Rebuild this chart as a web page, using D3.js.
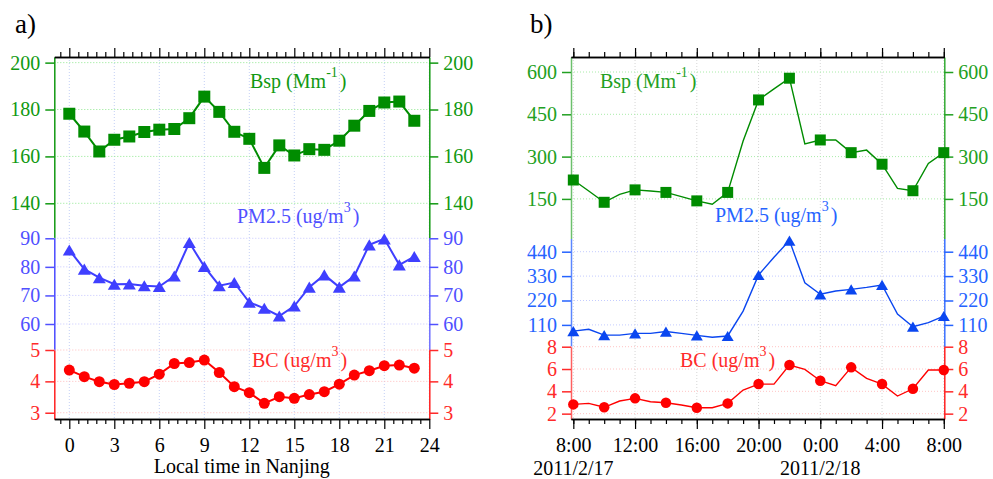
<!DOCTYPE html>
<html>
<head>
<meta charset="utf-8">
<script src="https://cdn.jsdelivr.net/npm/d3@7"></script>
<style>
  body { margin: 0; background: #fff; }
  text { font-family: "Liberation Serif", "Times New Roman", serif; }
</style>
</head>
<body>
<div id="chart"></div>
<script>
// ---- data, panel a (diurnal mean) ----
const hoursA = [0, 1, 2, 3, 4, 5, 6, 7, 8, 9, 10, 11, 12, 13, 14, 15, 16, 17, 18, 19, 20, 21, 22, 23]
const bspA = [178.2, 170.6, 162.1, 167.1, 168.5, 170.4, 171.4, 171.7, 176.3, 185.5, 179.0, 170.5,
              167.5, 155.1, 164.7, 160.4, 163.1, 162.8, 166.7, 173.1, 179.4, 183.0, 183.4, 175.2]
const pmA = [85.9, 79.2, 76.2, 73.9, 74.0, 73.4, 73.1, 76.8, 88.5, 80.1, 73.4, 74.5,
             67.6, 65.5, 62.8, 66.3, 72.9, 77.2, 72.9, 76.8, 87.7, 89.8, 80.7, 83.6]
const bcA = [4.36, 4.15, 3.99, 3.90, 3.94, 3.99, 4.23, 4.57, 4.60, 4.68, 4.28, 3.83,
             3.64, 3.30, 3.51, 3.46, 3.58, 3.67, 3.91, 4.20, 4.34, 4.50, 4.52, 4.42]
const xTicksA = [0, 3, 6, 9, 12, 15, 18, 21, 24]
const bspTicksA = [140, 160, 180, 200]
const pmTicksA = [60, 70, 80, 90]
const bcTicksA = [3, 4, 5]

// ---- data, panel b (episode 2011/2/17-18) ----
const timesB = ["2011-02-17 08:00", "2011-02-17 09:00", "2011-02-17 10:00", "2011-02-17 11:00",
  "2011-02-17 12:00", "2011-02-17 13:00", "2011-02-17 14:00", "2011-02-17 15:00",
  "2011-02-17 16:00", "2011-02-17 17:00", "2011-02-17 18:00", "2011-02-17 19:00",
  "2011-02-17 20:00", "2011-02-17 21:00", "2011-02-17 22:00", "2011-02-17 23:00",
  "2011-02-18 00:00", "2011-02-18 01:00", "2011-02-18 02:00", "2011-02-18 03:00",
  "2011-02-18 04:00", "2011-02-18 05:00", "2011-02-18 06:00", "2011-02-18 07:00",
  "2011-02-18 08:00"]
const bspB = [217, 178, 138, 166, 182, 178, 173, 158, 143, 131, 173, 355, 501,
              540, 578, 345, 359, 359, 314, 323, 273, 187, 179, 276, 314]
const pmB = [82, 90, 64, 64, 72, 72, 80, 72, 63, 54, 60, 172, 335,
             415, 490, 300, 248, 263, 270, 279, 290, 159, 102, 120, 150]
const bcB = [2.83, 2.92, 2.57, 3.13, 3.37, 3.07, 2.98, 2.77, 2.53, 2.53, 2.92, 4.12, 4.65,
             4.65, 6.36, 5.97, 4.95, 4.50, 6.15, 5.16, 4.65, 3.58, 4.23, 5.91, 5.91]
const bspTicksB = [150, 300, 450, 600]
const pmTicksB = [110, 220, 330, 440]
const bcTicksB = [2, 4, 6, 8]
const dateLabelsB = [["2011-02-17 08:00", "2011/2/17"], ["2011-02-18 00:00", "2011/2/18"]]

const W = 993, H = 479
const TOP = 57, BOTTOM = 419
const FONT = "'Liberation Serif', 'Times New Roman', serif"

const svg = d3.select("#chart").append("svg")
    .attr("width", W).attr("height", H)
    .style("font-family", FONT)

const parse = d3.timeParse("%Y-%m-%d %H:%M")

function triangle(w, h) {
    return `M0,${-h / 2}L${w / 2},${h / 2}L${-w / 2},${h / 2}Z`
}

// draws one stacked y-axis band on both sides with its grid
function yBand(g, x, band, ticks) {
    const y = d3.scaleLinear().domain(band.domain).range([band.y1, band.y0])
    const [x0, x1] = x.range()

    g.append("g").selectAll("line")
        .data(ticks).enter().append("line")
        .attr("x1", x0).attr("x2", x1)
        .attr("y1", d => y(d)).attr("y2", d => y(d))
        .attr("stroke", band.grid).attr("stroke-width", 1)
        .attr("stroke-dasharray", "1,2")

    const fmt = d3.format("d")
    const left = g.append("g").attr("transform", `translate(${x0},0)`)
        .call(d3.axisLeft(y).tickValues(ticks).tickFormat(fmt).tickSize(9).tickPadding(5).tickSizeOuter(0))
    const right = g.append("g").attr("transform", `translate(${x1},0)`)
        .call(d3.axisRight(y).tickValues(ticks).tickFormat(fmt).tickSize(9).tickPadding(5).tickSizeOuter(0))

    ;[left, right].forEach((ax, i) => {
        ax.attr("font-family", FONT)
        ax.select(".domain").attr("stroke", i == 0 ? band.axisL : band.axisR).attr("stroke-width", 1.5)
        ax.selectAll(".tick line").attr("stroke", band.color).attr("stroke-width", 1.5)
        ax.selectAll(".tick text").attr("fill", band.color)
            .style("font-size", "20px").style("font-family", FONT)
    })
    return y
}

function series(g, x, y, xs, vals, s) {
    const pts = xs.map((d, i) => [d, vals[i]])
    g.append("path").datum(pts)
        .attr("fill", "none").attr("stroke", s.color).attr("stroke-width", s.lw)
        .attr("d", d3.line().x(d => x(d[0])).y(d => y(d[1])))

    const marks = pts.filter((d, i) => i % s.every == 0)
    const sel = g.append("g").selectAll("path")
        .data(marks).enter().append("path")
        .attr("transform", d => `translate(${x(d[0])},${y(d[1])})`)
        .attr("fill", s.color)
    if (s.shape == "square") sel.attr("d", `M${-s.size / 2},${-s.size / 2}h${s.size}v${s.size}h${-s.size}Z`)
    if (s.shape == "triangle") sel.attr("d", triangle(s.size, s.size * 0.85))
    if (s.shape == "circle") sel.attr("d", d3.symbol(d3.symbolCircle, Math.PI * (s.size / 2) ** 2)())
}

function label(g, x, y, main, sup, color) {
    const t = g.append("text").attr("x", x).attr("y", y)
        .attr("fill", color).style("font-size", "20px").style("font-family", FONT)
    t.append("tspan").text(main)
    t.append("tspan").attr("dy", -11).style("font-size", "14px").text(sup)
    t.append("tspan").attr("dy", 11).attr("dx", 2).text(")")
}

function frameX(g, axisFn, ypos) {
    const a = g.append("g").attr("transform", `translate(0,${ypos})`).call(axisFn)
    a.attr("font-family", FONT)
    a.select(".domain").attr("stroke", "#000").attr("stroke-width", 1.5)
    a.selectAll(".tick line").attr("stroke", "#000").attr("stroke-width", 1.2)
    a.selectAll(".tick text").attr("fill", "#000").style("font-size", "20px")
        .style("font-family", FONT)
    return a
}

// ================= panel a =================
{
    const g = svg.append("g")
    const x = d3.scaleLinear().domain([-1, 24]).range([54.3, 429.3])

    g.append("g").selectAll("line").data(xTicksA).enter().append("line")
        .attr("x1", d => x(d)).attr("x2", d => x(d))
        .attr("y1", TOP).attr("y2", BOTTOM)
        .attr("stroke", "#c4d0f6").attr("stroke-dasharray", "1,2")

    const yBsp = yBand(g, x, {domain: [125.2, 202.4], y0: TOP, y1: 238,
        color: "#119911", axisL: "#119911", axisR: "#119911", grid: "#8fe88f"}, bspTicksA)
    const yPm = yBand(g, x, {domain: [50.9, 90.1], y0: 238, y1: 350,
        color: "#5050ff", axisL: "#4a4aff", axisR: "#7070ff", grid: "#c6c6ff"}, pmTicksA)
    const yBc = yBand(g, x, {domain: [2.8, 5], y0: 350, y1: BOTTOM,
        color: "#ff2a2a", axisL: "#ff2020", axisR: "#ff2020", grid: "#ffbcbc"}, bcTicksA)

    const minor = d3.range(-1, 41).map(k => k * 0.6).filter((d, i) => (i - 1) % 5 != 0)
    frameX(g, d3.axisBottom(x).tickValues(xTicksA).tickSize(10).tickPadding(9).tickSizeOuter(0), BOTTOM)
    frameX(g, d3.axisBottom(x).tickValues(minor).tickSize(5).tickFormat("").tickSizeOuter(0), BOTTOM)
    frameX(g, d3.axisTop(x).tickValues(xTicksA).tickSize(9).tickFormat("").tickSizeOuter(0), TOP)
    frameX(g, d3.axisTop(x).tickValues(minor).tickSize(5).tickFormat("").tickSizeOuter(0), TOP)

    series(g, x, yBsp, hoursA, bspA, {color: "#008c00", lw: 2, every: 1, shape: "square", size: 12})
    series(g, x, yPm, hoursA, pmA, {color: "#3f3fff", lw: 2, every: 1, shape: "triangle", size: 13})
    series(g, x, yBc, hoursA, bcA, {color: "#ff0000", lw: 2, every: 1, shape: "circle", size: 11})

    label(g, 250, 88, "Bsp (Mm", "-1", "#119911")
    label(g, 237, 223, "PM2.5 (ug/m", "3", "#5050ff")
    label(g, 252, 367, "BC (ug/m", "3", "#ff2a2a")

    g.append("text").attr("x", x(11.5)).attr("y", 473).attr("text-anchor", "middle")
        .style("font-size", "20px").style("font-family", FONT).text("Local time in Nanjing")
    g.append("text").attr("x", 15).attr("y", 33).style("font-size", "27px")
        .style("font-family", FONT).text("a)")
}

// ================= panel b =================
{
    const g = svg.append("g")
    const tb = timesB.map(parse)
    const t0 = tb[0], t1 = tb[tb.length - 1]
    const x = d3.scaleTime()
        .domain([d3.timeMinute.offset(t0, -9), d3.timeMinute.offset(t1, 2)])
        .range([571, 944.3])

    const major = d3.timeHour.every(4).range(t0, d3.timeMinute.offset(t1, 1))
    const minor = d3.timeHour.every(1).range(t0, d3.timeMinute.offset(t1, 1))

    g.append("g").selectAll("line").data(major).enter().append("line")
        .attr("x1", d => x(d)).attr("x2", d => x(d))
        .attr("y1", TOP).attr("y2", BOTTOM)
        .attr("stroke", "#d6d6d6").attr("stroke-dasharray", "1,2")

    const yBsp = yBand(g, x, {domain: [9.6, 653.2], y0: TOP, y1: 238.5,
        color: "#22a022", axisL: "#6cc06c", axisR: "#33aa33", grid: "#a8eca8"}, bspTicksB)
    const yPm = yBand(g, x, {domain: [11.7, 499.5], y0: 238.5, y1: 346.7,
        color: "#2563ff", axisL: "#5a86ff", axisR: "#3a70ff", grid: "#c4ccff"}, pmTicksB)
    const yBc = yBand(g, x, {domain: [1.52, 8], y0: 346.7, y1: BOTTOM,
        color: "#ff2a2a", axisL: "#ff6060", axisR: "#ff2020", grid: "#ffc4c4"}, bcTicksB)

    const fmt = d3.timeFormat("%-H:%M")
    frameX(g, d3.axisBottom(x).tickValues(major).tickFormat(fmt).tickSize(10).tickPadding(9).tickSizeOuter(0), BOTTOM)
    frameX(g, d3.axisBottom(x).tickValues(minor).tickSize(5).tickFormat("").tickSizeOuter(0), BOTTOM)
    frameX(g, d3.axisTop(x).tickValues(major).tickSize(9).tickFormat("").tickSizeOuter(0), TOP)
    frameX(g, d3.axisTop(x).tickValues(minor).tickSize(5).tickFormat("").tickSizeOuter(0), TOP)

    series(g, x, yBsp, tb, bspB, {color: "#008c00", lw: 1.4, every: 2, shape: "square", size: 11})
    series(g, x, yPm, tb, pmB, {color: "#0a46f0", lw: 1.4, every: 2, shape: "triangle", size: 12})
    series(g, x, yBc, tb, bcB, {color: "#ff0000", lw: 1.4, every: 2, shape: "circle", size: 10.5})

    label(g, 600, 88, "Bsp (Mm", "-1", "#22a022")
    label(g, 715, 222, "PM2.5 (ug/m", "3", "#2563ff")
    label(g, 680, 367, "BC (ug/m", "3", "#ff2a2a")

    g.selectAll(".datelab").data(dateLabelsB).enter().append("text")
        .attr("x", d => x(parse(d[0]))).attr("y", 475).attr("text-anchor", "middle")
        .style("font-size", "20px").style("font-family", FONT).text(d => d[1])
    g.append("text").attr("x", 530).attr("y", 33).style("font-size", "27px")
        .style("font-family", FONT).text("b)")
}
</script>
</body>
</html>
